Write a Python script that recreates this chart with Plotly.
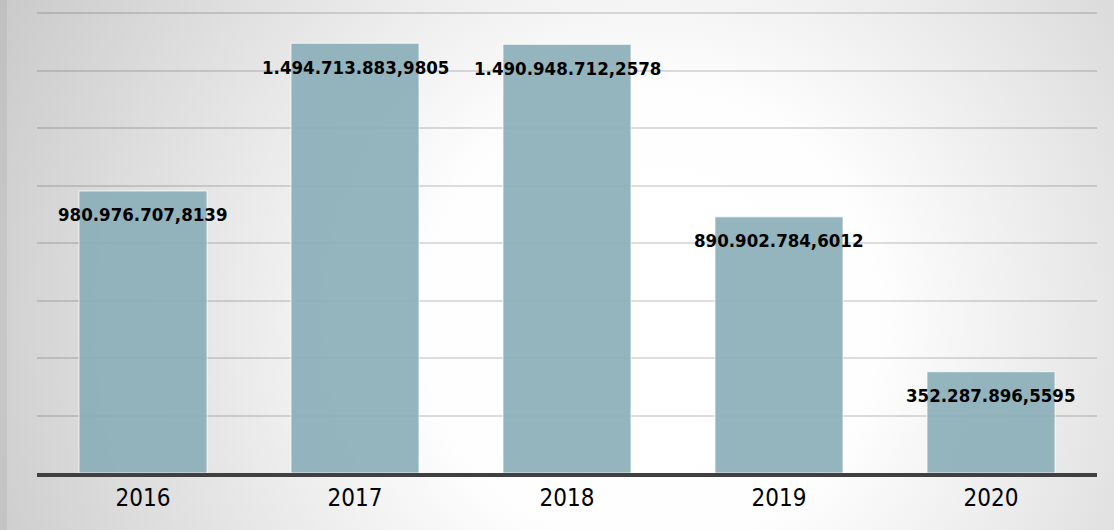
import base64
import plotly.graph_objects as go

years = ["2016", "2017", "2018", "2019", "2020"]
values = [980976707.8139, 1494713883.9805, 1490948712.2578, 890902784.6012, 352287896.5595]


def fmt_tr(v):
    s = f"{v:,.4f}"
    return s.replace(",", "X").replace(".", ",").replace("X", ".")


W, H = 1114, 530
ML, MR, MT, MB = 37, 17, 7, 57
PW, PH = W - ML - MR, H - MT - MB
# grid top (1.6e9) sits at 13 px from the top; 460 px per 1.6e9
YMAX = 1.6e9 * PH / 460.0

svg = f"""<svg xmlns='http://www.w3.org/2000/svg' width='{W}' height='{H}' viewBox='0 0 {W} {H}' preserveAspectRatio='none'>
<defs><radialGradient id='g' gradientUnits='userSpaceOnUse' cx='650' cy='320' r='760'>
<stop offset='0' stop-color='#ffffff'/><stop offset='0.3' stop-color='#fefefe'/><stop offset='1' stop-color='#c6c6c6'/>
</radialGradient></defs>
<rect x='0' y='0' width='{W}' height='{H}' fill='url(#g)'/>
<rect x='0' y='0' width='7' height='{H}' fill='rgba(0,0,0,0.05)'/>
</svg>"""
src = "data:image/svg+xml;base64," + base64.b64encode(svg.encode()).decode()

fig = go.Figure()
fig.add_trace(go.Bar(
    x=years, y=values,
    marker=dict(color="rgba(140,175,185,0.92)", line=dict(color="rgba(255,255,255,0.75)", width=1)),
    hoverinfo="skip",
))

for i, v in enumerate(values):
    fig.add_annotation(
        x=i, y=v, text=f"<b>{fmt_tr(v)}</b>", showarrow=False,
        yanchor="middle", xanchor="center", yshift=-24,
        font=dict(family="DejaVu Sans Condensed, DejaVu Sans", size=18.5, color="#000000"),
    )

fig.update_layout(
    width=W, height=H,
    margin=dict(l=ML, r=MR, t=MT, b=MB, pad=0),
    paper_bgcolor="#ffffff",
    plot_bgcolor="rgba(0,0,0,0)",
    bargap=0.396,
    showlegend=False,
    images=[dict(
        source=src, xref="paper", yref="paper",
        x=-ML / PW, y=1 + MT / PH, sizex=W / PW, sizey=H / PH,
        xanchor="left", yanchor="top", sizing="stretch", layer="below",
    )],
    xaxis=dict(
        type="category", range=[-0.5, len(years) - 0.5],
        showline=True, linecolor="#404040", linewidth=3.5,
        showgrid=False, ticks="", zeroline=False,
        tickfont=dict(family="DejaVu Sans Condensed, DejaVu Sans", size=24, color="#000000"),
    ),
    yaxis=dict(
        range=[0, YMAX], dtick=2e8, tick0=0,
        showgrid=True, gridcolor="rgba(0,0,0,0.13)", gridwidth=1.5,
        showticklabels=False, zeroline=False, showline=False, ticks="",
    ),
)

fig.write_html("out.html")
